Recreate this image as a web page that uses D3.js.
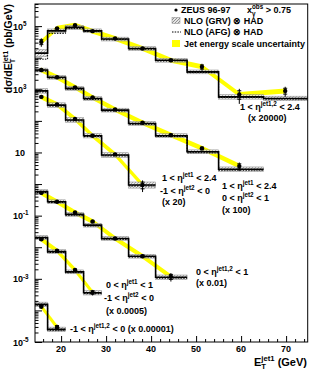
<!DOCTYPE html>
<html>
<head>
<meta charset="utf-8">
<script src="https://cdn.jsdelivr.net/npm/d3@7"></script>
<style>
body { margin: 0; background: #fff; }
text { font-family: "Liberation Sans", Arial, sans-serif; font-weight: bold; fill: #000; }
</style>
</head>
<body>
<div id="chart"></div>
<script>
// E_T^jet1 bin edges (GeV) and mean E_T of each bin
var edges = [14, 17, 21, 25, 29, 35, 41, 48, 55, 65, 75];
var meanEt = [15.6, 19.1, 23.1, 27.0, 32.0, 38.1, 44.4, 51.3, 59.6, 69.8];

// values as plotted (scale factor already applied), pb/GeV
// 1 < eta1,2 < 2.4  (x 20000)
var zeus1 = [31600, 85100, 107000, 69200, 40700, 19500, 8300, 5130, 690, 890];
var grv1  = [14000, 70800, 91200, 70800, 38900, 19500, 8300, 3550, 575, 513];
var afg1  = [9000, 58900, 83200, 67600, 37200, 18600, 7900, 3400, 550, 490];
var err1  = [0.3, 0.06, 0.06, 0.06, 0.06, 0.08, 0.1, 0.25, 0.5, 0.35];
var unc1  = [0.3, 0.15, 0.15, 0.15, 0.15, 0.15, 0.15, 0.15, 0.18, 0.18];

// 1 < eta1 < 2.4, 0 < eta2 < 1  (x 100)
var zeus2 = [4070, 2400, 1150, 550, 229, 87, 35.5, 13.5, 3.7];
var grv2  = [4070, 2400, 1070, 513, 219, 83, 34, 10.5, 2.95];
var afg2  = [3800, 2250, 1000, 480, 205, 78, 32, 9.8, 2.75];
var err2  = [0.05, 0.05, 0.06, 0.06, 0.08, 0.1, 0.12, 0.15, 0.3];
var unc2  = [0.15, 0.15, 0.15, 0.15, 0.15, 0.15, 0.15, 0.15, 0.18];

// 1 < eta1 < 2.4, -1 < eta2 < 0  (x 20)
var zeus3 = [575, 331, 115, 34, 8.7, 0.93];
var grv3  = [891, 316, 107, 34, 8.3, 0.93];
var afg3  = [830, 295, 100, 32, 7.8, 0.87];
var err3  = [0.08, 0.06, 0.06, 0.08, 0.1, 0.4];
var unc3  = [0.18, 0.18, 0.18, 0.18, 0.18, 0.25];

// 0 < eta1,2 < 1  (x 0.01)
var zeus4 = [0.525, 0.275, 0.126, 0.065, 0.019, 0.0052, 0.00117];
var grv4  = [0.575, 0.275, 0.11, 0.050, 0.019, 0.0052, 0.00112];
var afg4  = [0.54, 0.26, 0.103, 0.047, 0.0178, 0.0049, 0.00105];
var err4  = [0.06, 0.06, 0.06, 0.08, 0.1, 0.12, 0.3];
var unc4  = [0.15, 0.15, 0.15, 0.15, 0.15, 0.15, 0.18];

// 0 < eta1 < 1, -1 < eta2 < 0  (x 0.0005)
var zeus5 = [0.0178, 0.00776, 0.00191, 0.000372];
var grv5  = [0.0204, 0.00724, 0.00166, 0.000363];
var afg5  = [0.0192, 0.0068, 0.00156, 0.00034];
var err5  = [0.1, 0.1, 0.1, 0.2];
var unc5  = [0.15, 0.15, 0.15, 0.18];

// -1 < eta1,2 < 0  (x 0.00001)
var zeus6 = [0.000132, 0.0000295];
var grv6  = [0.000155, 0.0000251];
var afg6  = [0.000146, 0.0000236];
var err6  = [0.15, 0.2];
var unc6  = [0.18, 0.18];

var xMajor = [20, 30, 40, 50, 60, 70];
var yLabelPowers = [5, 3, 1, -1, -3, -5];

var W = 315, H = 374;
var svg = d3.select("#chart").append("svg")
  .attr("width", W)
  .attr("height", H);

var pLeft = 35, pRight = 307.7, pTop = 4, pBottom = 342;

var x = d3.scaleLinear().domain([14.2, 74.8]).range([pLeft, pRight]);
var y = d3.scaleLog().domain([1e-5, Math.pow(10, 5.7)]).range([pBottom, pTop]);

var defs = svg.append("defs");
defs.append("clipPath").attr("id", "clip")
  .append("rect").attr("x", pLeft).attr("y", pTop)
  .attr("width", pRight - pLeft).attr("height", pBottom - pTop);

var hatch = defs.append("pattern").attr("id", "hatch")
  .attr("patternUnits", "userSpaceOnUse")
  .attr("width", 3).attr("height", 3);
hatch.append("rect").attr("width", 3).attr("height", 3).attr("fill", "#e4e4e4");
hatch.append("path").attr("d", "M-1,1 l2,-2 M0,3 l3,-3 M2,4 l2,-2")
  .attr("stroke", "#555").attr("stroke-width", 0.6);

// text with super/subscripts; parts = [[str, kind, sub], ...]
function rich(sel, parts, size) {
  var cur = 0, pend = 0;
  parts.forEach(function(p) {
    var kind = p[1] || "n";
    if (kind === "n") {
      sel.append("tspan").attr("dx", pend).attr("dy", -cur).attr("font-size", size).text(p[0]);
      cur = 0; pend = 0;
    } else if (kind === "sup") {
      var o = -size * 0.42;
      sel.append("tspan").attr("dx", pend).attr("dy", o - cur).attr("font-size", size * 0.7).text(p[0]);
      cur = o; pend = 0;
    } else if (kind === "supsub") {
      var o1 = -size * 0.42, o2 = size * 0.3;
      var t1 = sel.append("tspan").attr("dx", pend).attr("dy", o1 - cur).attr("font-size", size * 0.7).text(p[0]);
      var l1 = t1.node().getComputedTextLength();
      var t2 = sel.append("tspan").attr("dx", -l1).attr("dy", o2 - o1).attr("font-size", size * 0.7).text(p[2]);
      var l2 = t2.node().getComputedTextLength();
      cur = o2;
      pend = Math.max(l1 - l2, 0);
    }
  });
  return sel;
}

function label(xp, yp, parts, size, anchor) {
  var t = svg.append("text").attr("x", xp).attr("y", yp)
    .attr("text-anchor", anchor || "start");
  return rich(t, parts, size || 9);
}

var plot = svg.append("g").attr("clip-path", "url(#clip)");

var series = [
  {data: zeus1, grv: grv1, afg: afg1, err: err1, unc: unc1},
  {data: zeus2, grv: grv2, afg: afg2, err: err2, unc: unc2},
  {data: zeus3, grv: grv3, afg: afg3, err: err3, unc: unc3},
  {data: zeus4, grv: grv4, afg: afg4, err: err4, unc: unc4},
  {data: zeus5, grv: grv5, afg: afg5, err: err5, unc: unc5},
  {data: zeus6, grv: grv6, afg: afg6, err: err6, unc: unc6}
];

var band = d3.area()
  .x(function(d) { return x(d.et); })
  .y0(function(d) { return y(d.v / 1.2); })
  .y1(function(d) { return y(d.v * 1.2); });

var step = d3.line()
  .x(function(d) { return x(d[0]); })
  .y(function(d) { return y(d[1]); })
  .curve(d3.curveStepAfter);

series.forEach(function(s) {
  var n = s.grv.length;
  var bins = d3.range(n).map(function(i) {
    return {lo: edges[i], hi: edges[i + 1], grv: s.grv[i], afg: s.afg[i],
            unc: s.unc[i], et: meanEt[i], v: s.data[i], e: s.err[i]};
  });

  // jet energy scale uncertainty
  plot.append("path").datum(bins)
    .attr("d", band)
    .attr("fill", "#ffff00");

  // NLO (GRV) uncertainty
  plot.selectAll(null).data(bins).enter().append("rect")
    .attr("x", function(d) { return x(d.lo); })
    .attr("width", function(d) { return x(d.hi) - x(d.lo); })
    .attr("y", function(d) { return y(d.grv * (1 + d.unc)); })
    .attr("height", function(d) { return y(d.grv / (1 + d.unc)) - y(d.grv * (1 + d.unc)); })
    .attr("fill", "url(#hatch)")
    .attr("fill-opacity", 0.8)
    .attr("stroke", "#888")
    .attr("stroke-width", 0.5);

  var grvPts = bins.map(function(d) { return [d.lo, d.grv]; });
  grvPts.push([bins[n - 1].hi, bins[n - 1].grv]);
  var afgPts = bins.map(function(d) { return [d.lo, d.afg]; });
  afgPts.push([bins[n - 1].hi, bins[n - 1].afg]);

  plot.append("path").datum(afgPts)
    .attr("d", step)
    .attr("fill", "none")
    .attr("stroke", "#000")
    .attr("stroke-width", 1)
    .attr("stroke-dasharray", "1.5,1.2");

  plot.append("path").datum(grvPts)
    .attr("d", step)
    .attr("fill", "none")
    .attr("stroke", "#000")
    .attr("stroke-width", 1.6);

  // data points
  var pts = plot.selectAll(null).data(bins).enter().append("g");
  pts.append("line")
    .attr("x1", function(d) { return x(d.et); })
    .attr("x2", function(d) { return x(d.et); })
    .attr("y1", function(d) { return y(d.v * (1 + d.e)); })
    .attr("y2", function(d) { return y(d.v * (1 - d.e)); })
    .attr("stroke", "#000").attr("stroke-width", 1);
  [0.6, -0.6].forEach(function(k) {
    pts.append("line")
      .attr("x1", function(d) { return x(d.et) - 2; })
      .attr("x2", function(d) { return x(d.et) + 2; })
      .attr("y1", function(d) { return y(d.v * (1 + d.e * k)); })
      .attr("y2", function(d) { return y(d.v * (1 + d.e * k)); })
      .attr("stroke", "#000").attr("stroke-width", 1);
  });
  pts.append("circle")
    .attr("cx", function(d) { return x(d.et); })
    .attr("cy", function(d) { return y(d.v); })
    .attr("r", 2.2)
    .attr("fill", "#000");
});

// axes (ticks inside the frame)
var xMinor = d3.range(16, 75, 2).filter(function(v) { return v % 10 !== 0; });
svg.append("g").attr("transform", "translate(0," + pBottom + ")")
  .call(d3.axisBottom(x).tickValues(xMajor).tickSize(-6).tickFormat(""))
  .call(function(g) { g.select(".domain").remove(); });
svg.append("g").attr("transform", "translate(0," + pBottom + ")")
  .call(d3.axisBottom(x).tickValues(xMinor).tickSize(-3).tickFormat(""))
  .call(function(g) { g.select(".domain").remove(); });

xMajor.forEach(function(v) {
  svg.append("text").attr("x", x(v)).attr("y", 352)
    .attr("text-anchor", "middle").attr("font-size", 9).text(v);
});

var decades = d3.range(-5, 6).map(function(p) { return Math.pow(10, p); });
var yMinor = [];
d3.range(-5, 6).forEach(function(p) {
  d3.range(2, 10).forEach(function(m) { yMinor.push(m * Math.pow(10, p)); });
});
yMinor = yMinor.filter(function(v) { return v < Math.pow(10, 5.7); });

svg.append("g").attr("transform", "translate(" + pLeft + ",0)")
  .call(d3.axisLeft(y).tickValues(decades).tickSize(-7).tickFormat(""))
  .call(function(g) { g.select(".domain").remove(); });
svg.append("g").attr("transform", "translate(" + pLeft + ",0)")
  .call(d3.axisLeft(y).tickValues(yMinor).tickSize(-3.5).tickFormat(""))
  .call(function(g) { g.select(".domain").remove(); });

yLabelPowers.forEach(function(p) {
  var yy = y(Math.pow(10, p)) + 3.5;
  if (p === 1) {
    label(15, yy, [["10"]], 9);
  } else {
    label(13, yy, [["10"], [String(p), "sup"]], 9);
  }
});

svg.append("rect")
  .attr("x", pLeft).attr("y", pTop)
  .attr("width", pRight - pLeft).attr("height", pBottom - pTop)
  .attr("fill", "none").attr("stroke", "#000").attr("stroke-width", 1);

// axis titles
label(307, 366, [["E"], ["jet1", "supsub", "T"], [" (GeV)"]], 11, "end");
var yt = svg.append("text")
  .attr("transform", "translate(12,4) rotate(-90)")
  .attr("text-anchor", "end");
rich(yt, [["dσ/dE"], ["jet1", "supsub", "T"], [" (pb/GeV)"]], 10.5);

// series labels
label(240, 110, [["1 < η"], ["jet1,2", "sup"], [" < 2.4"]]);
label(248, 121, [["(x 20000)"]]);

label(222, 189, [["1 < η"], ["jet1", "sup"], [" < 2.4"]]);
label(222, 201, [["0 < η"], ["jet2", "sup"], [" < 1"]]);
label(222, 213, [["(x 100)"]]);

label(162, 181, [["1 < η"], ["jet1", "sup"], [" < 2.4"]]);
label(160, 194, [["-1 < η"], ["jet2", "sup"], [" < 0"]]);
label(162, 205, [["(x 20)"]]);

label(196, 275, [["0 < η"], ["jet1,2", "sup"], [" < 1"]]);
label(196, 286, [["(x 0.01)"]]);

label(106, 288, [["0 < η"], ["jet1", "sup"], [" < 1"]]);
label(104, 301, [["-1 < η"], ["jet2", "sup"], [" < 0"]]);
label(106, 314, [["(x 0.0005)"]]);

label(70, 332, [["-1 < η"], ["jet1,2", "sup"], [" < 0  (x 0.00001)"]]);

// legend
svg.append("circle").attr("cx", 176).attr("cy", 10).attr("r", 1.6).attr("fill", "#000");
label(181, 13, [["ZEUS 96-97"]]);
label(247, 13, [["x"], ["obs", "supsub", "γ"], ["  > 0.75"]]);

svg.append("rect").attr("x", 172).attr("y", 17.5).attr("width", 8).attr("height", 6)
  .attr("fill", "url(#hatch)").attr("stroke", "#888").attr("stroke-width", 0.5);
label(184, 24, [["NLO (GRV) ⊗ HAD"]]);

svg.append("line").attr("x1", 172).attr("x2", 181).attr("y1", 32).attr("y2", 32)
  .attr("stroke", "#000").attr("stroke-width", 1).attr("stroke-dasharray", "1.5,1.2");
label(184, 35, [["NLO (AFG) ⊗ HAD"]]);

svg.append("rect").attr("x", 172).attr("y", 40).attr("width", 8).attr("height", 7)
  .attr("fill", "#ffff00");
label(184, 46.5, [["Jet energy scale uncertainty"]]);
</script>
</body>
</html>
